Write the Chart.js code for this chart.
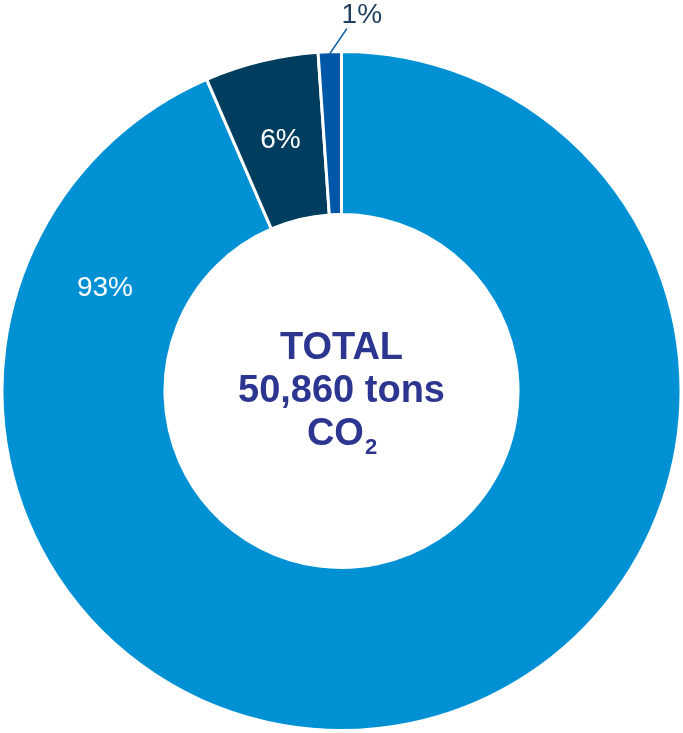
<!DOCTYPE html>
<html>
<head>
<meta charset="utf-8">
<script src="https://cdn.jsdelivr.net/npm/chart.js@4/dist/chart.umd.min.js"></script>
<style>
  html, body { margin: 0; padding: 0; background: #fff; }
  #wrap { width: 683px; height: 733px; position: relative; }
</style>
</head>
<body>
<div id="wrap"><canvas id="chart1"></canvas></div>
<script>
const categories = ['Category A', 'Category B', 'Category C'];
const shares = [93.5, 5.4, 1.1];
const shareLabels = ['93%', '6%', '1%'];
const colors = ['#0091D5', '#003D5E', '#0057A8'];
const centerLines = ['TOTAL', '50,860 tons', 'CO'];

const labelPlugin = {
    id: 'labelPlugin',
    afterDatasetsDraw(chart) {
        const ctx = chart.ctx;
        const arcs = chart.getDatasetMeta(0).data;
        ctx.save();
        ctx.textAlign = 'center';
        ctx.textBaseline = 'middle';
        ctx.font = '28px "Liberation Sans", Arial, sans-serif';

        arcs.forEach((arc, i) => {
            const p = arc.getProps(['x', 'y', 'startAngle', 'endAngle', 'innerRadius', 'outerRadius'], true);
            const span = p.endAngle - p.startAngle;
            if (i === 2) {
                // small slice: label outside with a leader line
                const a = p.startAngle + span / 2;
                const x1 = p.x + Math.cos(a) * (p.outerRadius - 2);
                const y1 = p.y + Math.sin(a) * (p.outerRadius - 2);
                ctx.strokeStyle = '#0057A8';
                ctx.lineWidth = 1.5;
                ctx.beginPath();
                ctx.moveTo(x1, y1);
                ctx.lineTo(x1 + 17, y1 - 25);
                ctx.stroke();
                ctx.fillStyle = '#1D3E5E';
                ctx.fillText(shareLabels[i], x1 + 32, y1 - 38);
                return;
            }
            const frac = i === 0 ? 0.872 : 0.5;
            const a = p.startAngle + span * frac;
            const r = (p.innerRadius + p.outerRadius) / 2;
            ctx.fillStyle = '#ffffff';
            ctx.fillText(shareLabels[i], p.x + Math.cos(a) * r, p.y + Math.sin(a) * r);
        });

        // centre text
        const cx = arcs[0].x, cy = arcs[0].y;
        const big = 'bold 38px "Liberation Sans", Arial, sans-serif';
        const sub = 'bold 22px "Liberation Sans", Arial, sans-serif';
        ctx.fillStyle = '#2C3590';
        ctx.font = big;
        ctx.fillText(centerLines[0], cx, cy - 42);
        ctx.fillText(centerLines[1], cx, cy + 1);
        const w = ctx.measureText(centerLines[2]).width;
        ctx.font = sub;
        const w2 = ctx.measureText('2').width;
        ctx.font = big;
        const left = cx - (w + w2) / 2;
        ctx.textAlign = 'left';
        ctx.fillText(centerLines[2], left, cy + 44);
        ctx.font = sub;
        ctx.fillText('2', left + w + 1, cy + 57);
        ctx.restore();
    }
};

const chart1 = new Chart(document.getElementById('chart1').getContext('2d'), {
    type: 'doughnut',
    data: {
        labels: categories,
        datasets: [{
            data: shares,
            backgroundColor: colors,
            borderColor: '#ffffff',
            borderWidth: 3
        }]
    },
    options: {
        responsive: true,
        maintainAspectRatio: false,
        animation: false,
        cutout: '52%',
        layout: { padding: { top: 50, bottom: 1, left: 0, right: 0 } },
        plugins: {
            legend: { display: false },
            tooltip: { enabled: false }
        }
    },
    plugins: [labelPlugin]
});
</script>
</body>
</html>
